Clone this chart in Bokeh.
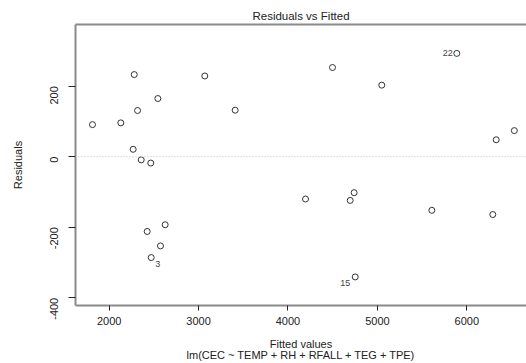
import math
from bokeh.plotting import figure
from bokeh.models import FixedTicker, Span, Range1d, ColumnDataSource, LinearAxis
from bokeh.embed import file_html
from bokeh.resources import INLINE
from bokeh.core.properties import value

# Data
fitted = [1813, 2130, 2280, 2317, 2544, 2268, 2358, 2465, 3069, 3409,
          4498, 5049, 5888, 6329, 6532, 2425, 2626, 2574, 2470, 4196,
          4696, 4740, 5609, 6291, 4752]
resid = [91, 96, 233, 131, 165, 21, -9, -18, 229, 132,
         253, 203, 293, 48, 74, -212, -193, -253, -286, -120,
         -124, -102, -152, -164, -341]

# labelled (most extreme) observations
lab_text = ["22", "15", "3"]
lab_pos = [12, 24, 18]          # index into fitted/resid
lab_align = ["right", "right", "left"]
lab_xoff = [-4, -5, 4]
lab_yoff = [0, 6, 6]

x_ticks = [2000, 3000, 4000, 5000, 6000]
y_ticks = [-400, -200, 0, 200]
y_tick_text = {-400: "-400", -200: "-200", 0: "0", 200: "200"}

FONT = "Liberation Sans"
GRAY = "#8a8a8a"

p = figure(width=526, height=363, output_backend="svg", toolbar_location=None,
           x_range=Range1d(1623, 6668), y_range=Range1d(-422, 375),
           min_border_left=75, min_border_right=0, min_border_top=24,
           min_border_bottom=58, title="Residuals vs Fitted")

p.title.text_font = FONT
p.title.text_font_size = "11.5px"
p.title.text_font_style = "normal"
p.title.align = "center"
p.title.text_color = "#222222"
p.title.standoff = 5

p.outline_line_color = None
p.xgrid.visible = False
p.ygrid.visible = False

# zero reference line
p.add_layout(Span(location=0, dimension="width", line_color="#c8c8c8",
                  line_dash="1 2", line_width=1.2))

src = ColumnDataSource(dict(x=fitted, y=resid))
p.scatter("x", "y", source=src, marker="circle", size=6, fill_color=None,
          line_color="#333333", line_width=1)

lsrc = ColumnDataSource(dict(
    x=[fitted[i] for i in lab_pos], y=[resid[i] for i in lab_pos],
    t=lab_text, a=lab_align, xo=lab_xoff, yo=lab_yoff))
p.text("x", "y", text="t", source=lsrc, text_align="a", x_offset="xo",
       y_offset="yo", text_baseline="middle", text_font=value(FONT),
       text_font_size="9px", text_color="#444444")

for ax in (p.xaxis[0], p.yaxis[0]):
    ax.axis_line_color = GRAY
    ax.axis_line_width = 2
    ax.major_tick_line_color = "#222222"
    ax.major_tick_in = 0
    ax.minor_tick_line_color = None
    ax.major_label_text_font = FONT
    ax.major_label_text_font_size = "11px"
    ax.major_label_text_color = "#222222"
    ax.axis_label_text_font = FONT
    ax.axis_label_text_font_size = "11px"
    ax.axis_label_text_font_style = "normal"
    ax.axis_label_text_color = "#222222"

p.xaxis.ticker = FixedTicker(ticks=x_ticks)
p.yaxis.ticker = FixedTicker(ticks=y_ticks)
p.yaxis.major_label_overrides = y_tick_text
p.xaxis.major_tick_out = 5
p.yaxis.major_tick_out = 7
p.xaxis.major_label_standoff = 6
p.yaxis.major_label_standoff = 14
p.yaxis.major_label_orientation = math.pi / 2
p.xaxis.axis_label = "Fitted values\nlm(CEC ~ TEMP + RH + RFALL + TEG + TPE)"
p.xaxis.axis_label_text_line_height = 0.95
p.yaxis.axis_label = "Residuals"
p.xaxis.axis_label_standoff = 10
p.yaxis.axis_label_standoff = 20

# top box edge
top = LinearAxis(ticker=FixedTicker(ticks=[]), axis_line_color=GRAY,
                 axis_line_width=2, major_tick_line_color=None,
                 minor_tick_line_color=None, major_label_text_font_size="0px")
p.add_layout(top, "above")

open("out.html", "w").write(file_html(p, INLINE))
